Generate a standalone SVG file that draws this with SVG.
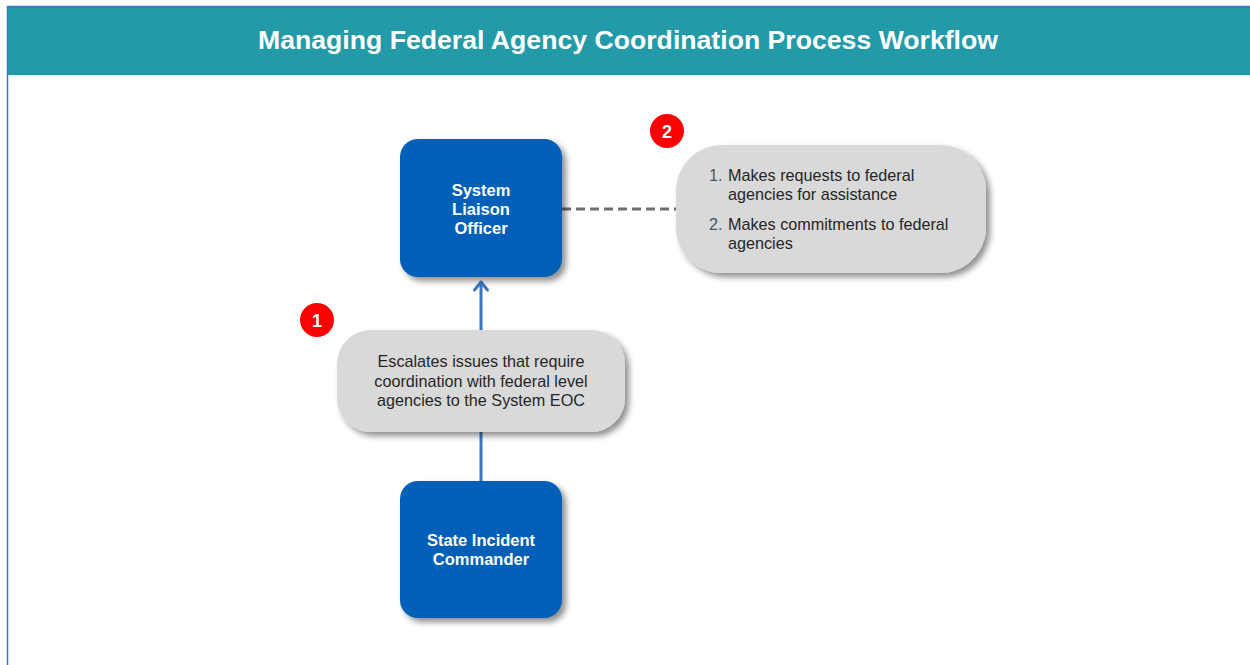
<svg xmlns="http://www.w3.org/2000/svg" width="1250" height="665" viewBox="0 0 1250 665">
<defs>
<filter id="sh" x="-20%" y="-20%" width="150%" height="150%">
<feGaussianBlur in="SourceAlpha" stdDeviation="3"/>
<feOffset dx="4" dy="4" result="b"/>
<feComponentTransfer><feFuncA type="linear" slope="0.45"/></feComponentTransfer>
<feMerge><feMergeNode/><feMergeNode in="SourceGraphic"/></feMerge>
</filter>
<style>
.node{fill:#055fb6;filter:url(#sh)}
.call{fill:#d9d9d9;filter:url(#sh)}
.nt{font-family:"Liberation Sans",Arial,sans-serif;font-weight:bold;font-size:16.5px;fill:#ffffff;text-anchor:middle}
.ct{font-family:"Liberation Sans",Arial,sans-serif;font-size:16.2px;fill:#262626}
.num{font-family:"Liberation Sans",Arial,sans-serif;font-size:16.2px;fill:#4a5566}
.badge{fill:#ff0000}
.bt{font-family:"Liberation Sans",Arial,sans-serif;font-weight:bold;font-size:18px;fill:#ffffff;text-anchor:middle}
</style>
</defs>
<rect width="1250" height="665" fill="#ffffff"/>
<g id="header">
<rect x="7" y="6" width="1243" height="69" fill="#229aa8"/>
<line x1="7" y1="6.5" x2="1250" y2="6.5" stroke="#3f74c5" stroke-width="1.5"/>
<line x1="7.5" y1="6" x2="7.5" y2="665" stroke="#3f74c5" stroke-width="1.5"/>
<line x1="8" y1="75.5" x2="1250" y2="75.5" stroke="#cfeff2" stroke-width="1"/>
<text x="628" y="49" font-family="'Liberation Sans',Arial,sans-serif" font-weight="bold" font-size="26" fill="#ffffff" text-anchor="middle" textLength="740" lengthAdjust="spacingAndGlyphs">Managing Federal Agency Coordination Process Workflow</text>
</g>
<g id="connectors">
<line x1="481" y1="481" x2="481" y2="432" stroke="#3b77c2" stroke-width="3"/>
<line x1="481" y1="330" x2="481" y2="282" stroke="#3b77c2" stroke-width="3"/>
<path d="M474.5,290 L481,282 L487.5,290" fill="none" stroke="#3b77c2" stroke-width="3" stroke-linecap="round" stroke-linejoin="round"/>
<line x1="562" y1="209" x2="676" y2="209" stroke="#6e6e6e" stroke-width="3" stroke-dasharray="9,5"/>
</g>
<g id="node-liaison">
<rect class="node" x="400" y="139" width="162" height="138" rx="18"/>
<text class="nt" x="481" y="196">System</text>
<text class="nt" x="481" y="215">Liaison</text>
<text class="nt" x="481" y="234">Officer</text>
</g>
<g id="node-commander">
<rect class="node" x="400" y="481" width="162" height="137" rx="18"/>
<text class="nt" x="481" y="546">State Incident</text>
<text class="nt" x="481" y="565">Commander</text>
</g>
<g id="callout-1">
<rect class="call" x="337" y="330" width="288" height="102" rx="34"/>
<text class="ct" x="481" y="367" text-anchor="middle">Escalates issues that require</text>
<text class="ct" x="481" y="387" text-anchor="middle">coordination with federal level</text>
<text class="ct" x="481" y="406" text-anchor="middle">agencies to the System EOC</text>
</g>
<g id="callout-2">
<rect class="call" x="676" y="145" width="310" height="128" rx="46"/>
<text class="num" x="709" y="181">1.</text>
<text class="ct" x="728" y="181">Makes requests to federal</text>
<text class="ct" x="728" y="200">agencies for assistance</text>
<text class="num" x="709" y="230">2.</text>
<text class="ct" x="728" y="230">Makes commitments to federal</text>
<text class="ct" x="728" y="249">agencies</text>
</g>
<g id="badge-1">
<circle class="badge" cx="317" cy="320" r="17"/>
<text class="bt" x="317" y="326.5">1</text>
</g>
<g id="badge-2">
<circle class="badge" cx="667" cy="131" r="17"/>
<text class="bt" x="667" y="137.5">2</text>
</g>
</svg>
